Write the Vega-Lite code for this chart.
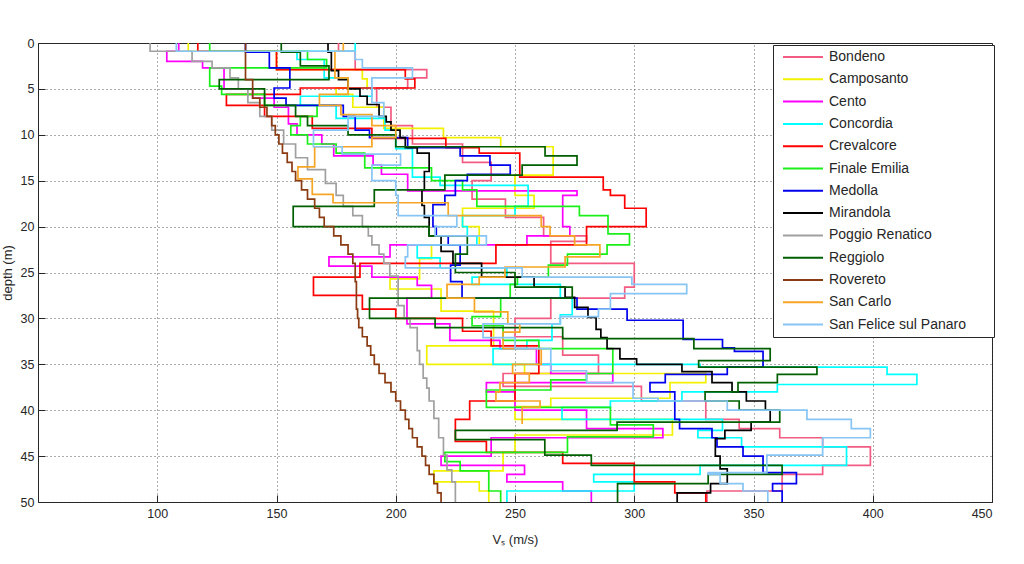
{
"$schema":"https://vega.github.io/schema/vega-lite/v6.json",
"width":954,"height":459,"autosize":"none",
"padding":{"left":38,"top":43,"right":32,"bottom":62},
"background":"white",
"config":{"view":{"stroke":"#262626","strokeWidth":1},"font":"Liberation Sans",
"axis":{"labelFont":"Liberation Sans","labelFontSize":12.5,"labelColor":"#262626","titleFont":"Liberation Sans","titleFontSize":13,"titleFontWeight":"normal","titleColor":"#262626","tickColor":"#262626","tickSize":-7,"labelPadding":12,"domain":false,"grid":true,"gridColor":"#333333","gridDash":[1,3],"gridOpacity":0.8}},
"data":{"values":[
{"s":"Bondeno","v":176,"t":0,"b":0.9},{"s":"Bondeno","v":183,"t":0.9,"b":2.9},{"s":"Bondeno","v":213,"t":2.9,"b":3.8},{"s":"Bondeno","v":205,"t":3.8,"b":4.9},{"s":"Bondeno","v":192,"t":4.9,"b":7},{"s":"Bondeno","v":198,"t":7,"b":9},{"s":"Bondeno","v":207,"t":9,"b":11},{"s":"Bondeno","v":228,"t":11,"b":13},{"s":"Bondeno","v":240,"t":13,"b":15},{"s":"Bondeno","v":232,"t":15,"b":17},{"s":"Bondeno","v":246,"t":17,"b":19},{"s":"Bondeno","v":262,"t":19,"b":21},{"s":"Bondeno","v":280,"t":21,"b":21.6},{"s":"Bondeno","v":265,"t":21.6,"b":24},{"s":"Bondeno","v":300,"t":24,"b":26.6},{"s":"Bondeno","v":296,"t":26.6,"b":27.8},{"s":"Bondeno","v":265,"t":27.8,"b":30},{"s":"Bondeno","v":250,"t":30,"b":32},{"s":"Bondeno","v":270,"t":32,"b":34},{"s":"Bondeno","v":285,"t":34,"b":36},{"s":"Bondeno","v":245,"t":36,"b":37.4},{"s":"Bondeno","v":303,"t":37.4,"b":39},{"s":"Bondeno","v":330,"t":39,"b":41},{"s":"Bondeno","v":344,"t":41,"b":42},{"s":"Bondeno","v":361,"t":42,"b":43},{"s":"Bondeno","v":379,"t":43,"b":44},{"s":"Bondeno","v":399,"t":44,"b":46},{"s":"Bondeno","v":379,"t":46,"b":47},{"s":"Bondeno","v":362,"t":47,"b":48.8},{"s":"Bondeno","v":330.5,"t":48.8,"b":50},
{"s":"Camposanto","v":113,"t":0,"b":0.9},{"s":"Camposanto","v":150,"t":0.9,"b":2.9},{"s":"Camposanto","v":186,"t":2.9,"b":3.9},{"s":"Camposanto","v":188,"t":3.9,"b":4.9},{"s":"Camposanto","v":175,"t":4.9,"b":5.6},{"s":"Camposanto","v":182,"t":5.6,"b":7},{"s":"Camposanto","v":195,"t":7,"b":9.3},{"s":"Camposanto","v":220,"t":9.3,"b":10.3},{"s":"Camposanto","v":244,"t":10.3,"b":11.3},{"s":"Camposanto","v":266,"t":11.3,"b":14.4},{"s":"Camposanto","v":250,"t":14.4,"b":16.6},{"s":"Camposanto","v":258,"t":16.6,"b":18},{"s":"Camposanto","v":228,"t":18,"b":20},{"s":"Camposanto","v":235,"t":20,"b":22},{"s":"Camposanto","v":215,"t":22,"b":23.5},{"s":"Camposanto","v":210,"t":23.5,"b":25.7},{"s":"Camposanto","v":197.6,"t":25.7,"b":26.8},{"s":"Camposanto","v":219,"t":26.8,"b":29.2},{"s":"Camposanto","v":241,"t":29.2,"b":33},{"s":"Camposanto","v":213,"t":33,"b":35},{"s":"Camposanto","v":254,"t":35,"b":36},{"s":"Camposanto","v":330,"t":36,"b":37},{"s":"Camposanto","v":315,"t":37,"b":38.7},{"s":"Camposanto","v":265,"t":38.7,"b":39.6},{"s":"Camposanto","v":250,"t":39.6,"b":41},{"s":"Camposanto","v":316,"t":41,"b":42.7},{"s":"Camposanto","v":250,"t":42.7,"b":44.6},{"s":"Camposanto","v":245,"t":44.6,"b":46.6},{"s":"Camposanto","v":216,"t":46.6,"b":47.8},{"s":"Camposanto","v":235,"t":47.8,"b":48.8},{"s":"Camposanto","v":239,"t":48.8,"b":50},
{"s":"Cento","v":109,"t":0,"b":0.9},{"s":"Cento","v":104,"t":0.9,"b":2},{"s":"Cento","v":119,"t":2,"b":2.7},{"s":"Cento","v":128,"t":2.7,"b":5},{"s":"Cento","v":140,"t":5,"b":6},{"s":"Cento","v":149,"t":6,"b":7},{"s":"Cento","v":155,"t":7,"b":8.8},{"s":"Cento","v":158.6,"t":8.8,"b":10},{"s":"Cento","v":169,"t":10,"b":11},{"s":"Cento","v":174,"t":11,"b":12.3},{"s":"Cento","v":190.5,"t":12.3,"b":13.3},{"s":"Cento","v":194,"t":13.3,"b":14.3},{"s":"Cento","v":205,"t":14.3,"b":16.1},{"s":"Cento","v":276,"t":16.1,"b":16.6},{"s":"Cento","v":270,"t":16.6,"b":20},{"s":"Cento","v":273,"t":20,"b":21},{"s":"Cento","v":255,"t":21,"b":22},{"s":"Cento","v":197.6,"t":22,"b":23.3},{"s":"Cento","v":172,"t":23.3,"b":24.3},{"s":"Cento","v":190,"t":24.3,"b":25.5},{"s":"Cento","v":209,"t":25.5,"b":26.4},{"s":"Cento","v":215,"t":26.4,"b":27.8},{"s":"Cento","v":204.7,"t":27.8,"b":30.6},{"s":"Cento","v":222.7,"t":30.6,"b":32.4},{"s":"Cento","v":243.7,"t":32.4,"b":33.3},{"s":"Cento","v":259,"t":33.3,"b":35},{"s":"Cento","v":265,"t":35,"b":36},{"s":"Cento","v":291,"t":36,"b":37},{"s":"Cento","v":238,"t":37,"b":38},{"s":"Cento","v":250,"t":38,"b":40},{"s":"Cento","v":280,"t":40,"b":42},{"s":"Cento","v":312,"t":42,"b":43},{"s":"Cento","v":240,"t":43,"b":45},{"s":"Cento","v":219,"t":45,"b":46},{"s":"Cento","v":254,"t":46,"b":47},{"s":"Cento","v":246.6,"t":47,"b":47.8},{"s":"Cento","v":270,"t":47.8,"b":48.8},{"s":"Cento","v":282,"t":48.8,"b":50},
{"s":"Concordia","v":183,"t":0,"b":0.9},{"s":"Concordia","v":158.6,"t":0.9,"b":1.8},{"s":"Concordia","v":170,"t":1.8,"b":3.8},{"s":"Concordia","v":180,"t":3.8,"b":4.9},{"s":"Concordia","v":190,"t":4.9,"b":5.8},{"s":"Concordia","v":160,"t":5.8,"b":6.8},{"s":"Concordia","v":175,"t":6.8,"b":8.2},{"s":"Concordia","v":195.5,"t":8.2,"b":9.5},{"s":"Concordia","v":200,"t":9.5,"b":11.5},{"s":"Concordia","v":207,"t":11.5,"b":14.6},{"s":"Concordia","v":218.6,"t":14.6,"b":15.5},{"s":"Concordia","v":255.5,"t":15.5,"b":17.8},{"s":"Concordia","v":250,"t":17.8,"b":18.8},{"s":"Concordia","v":228,"t":18.8,"b":20},{"s":"Concordia","v":230,"t":20,"b":21},{"s":"Concordia","v":234,"t":21,"b":22},{"s":"Concordia","v":209,"t":22,"b":23.4},{"s":"Concordia","v":218.6,"t":23.4,"b":24.5},{"s":"Concordia","v":246.6,"t":24.5,"b":25.5},{"s":"Concordia","v":232,"t":25.5,"b":26.3},{"s":"Concordia","v":269,"t":26.3,"b":27.8},{"s":"Concordia","v":274,"t":27.8,"b":29.6},{"s":"Concordia","v":269,"t":29.6,"b":30.6},{"s":"Concordia","v":265.5,"t":30.6,"b":32.4},{"s":"Concordia","v":255,"t":32.4,"b":33.3},{"s":"Concordia","v":240.8,"t":33.3,"b":35},{"s":"Concordia","v":327.6,"t":35,"b":35.3},{"s":"Concordia","v":406,"t":35.3,"b":36.1},{"s":"Concordia","v":418.5,"t":36.1,"b":37.2},{"s":"Concordia","v":360,"t":37.2,"b":38},{"s":"Concordia","v":320,"t":38,"b":39},{"s":"Concordia","v":290,"t":39,"b":39.7},{"s":"Concordia","v":269.7,"t":39.7,"b":41},{"s":"Concordia","v":337,"t":41,"b":42.2},{"s":"Concordia","v":326.7,"t":42.2,"b":43},{"s":"Concordia","v":345,"t":43,"b":44},{"s":"Concordia","v":389,"t":44,"b":46},{"s":"Concordia","v":327.6,"t":46,"b":47},{"s":"Concordia","v":283,"t":47,"b":47.8},{"s":"Concordia","v":300,"t":47.8,"b":48.8},{"s":"Concordia","v":246.6,"t":48.8,"b":50},
{"s":"Crevalcore","v":117,"t":0,"b":0.9},{"s":"Crevalcore","v":150,"t":0.9,"b":2.9},{"s":"Crevalcore","v":204,"t":2.9,"b":3.9},{"s":"Crevalcore","v":208,"t":3.9,"b":4.9},{"s":"Crevalcore","v":160,"t":4.9,"b":5.6},{"s":"Crevalcore","v":129,"t":5.6,"b":6.8},{"s":"Crevalcore","v":145,"t":6.8,"b":8},{"s":"Crevalcore","v":165,"t":8,"b":9.3},{"s":"Crevalcore","v":190,"t":9.3,"b":10.4},{"s":"Crevalcore","v":221,"t":10.4,"b":11.4},{"s":"Crevalcore","v":235,"t":11.4,"b":12},{"s":"Crevalcore","v":252,"t":12,"b":14.6},{"s":"Crevalcore","v":287,"t":14.6,"b":16},{"s":"Crevalcore","v":290,"t":16,"b":16.6},{"s":"Crevalcore","v":296,"t":16.6,"b":18},{"s":"Crevalcore","v":305,"t":18,"b":20},{"s":"Crevalcore","v":280,"t":20,"b":22},{"s":"Crevalcore","v":242,"t":22,"b":24},{"s":"Crevalcore","v":185,"t":24,"b":25.5},{"s":"Crevalcore","v":165.5,"t":25.5,"b":27.5},{"s":"Crevalcore","v":186,"t":27.5,"b":29},{"s":"Crevalcore","v":200,"t":29,"b":30},{"s":"Crevalcore","v":228,"t":30,"b":31.4},{"s":"Crevalcore","v":240,"t":31.4,"b":33},{"s":"Crevalcore","v":260,"t":33,"b":36},{"s":"Crevalcore","v":250,"t":36,"b":39},{"s":"Crevalcore","v":231,"t":39,"b":41},{"s":"Crevalcore","v":225,"t":41,"b":43.4},{"s":"Crevalcore","v":238,"t":43.4,"b":44.6},{"s":"Crevalcore","v":270,"t":44.6,"b":45.8},{"s":"Crevalcore","v":300,"t":45.8,"b":47.8},{"s":"Crevalcore","v":317,"t":47.8,"b":49},{"s":"Crevalcore","v":330,"t":49,"b":50},
{"s":"Finale Emilia","v":122,"t":0,"b":0.9},{"s":"Finale Emilia","v":163,"t":0.9,"b":1.8},{"s":"Finale Emilia","v":171,"t":1.8,"b":2.7},{"s":"Finale Emilia","v":122,"t":2.7,"b":4.7},{"s":"Finale Emilia","v":127,"t":4.7,"b":5.6},{"s":"Finale Emilia","v":145,"t":5.6,"b":6.8},{"s":"Finale Emilia","v":167,"t":6.8,"b":8},{"s":"Finale Emilia","v":160,"t":8,"b":9},{"s":"Finale Emilia","v":156,"t":9,"b":10},{"s":"Finale Emilia","v":163,"t":10,"b":11},{"s":"Finale Emilia","v":175,"t":11,"b":12},{"s":"Finale Emilia","v":187,"t":12,"b":13.6},{"s":"Finale Emilia","v":215,"t":13.6,"b":15},{"s":"Finale Emilia","v":228,"t":15,"b":16},{"s":"Finale Emilia","v":234,"t":16,"b":17.8},{"s":"Finale Emilia","v":277,"t":17.8,"b":18.8},{"s":"Finale Emilia","v":289,"t":18.8,"b":20.8},{"s":"Finale Emilia","v":298,"t":20.8,"b":22},{"s":"Finale Emilia","v":288.6,"t":22,"b":23},{"s":"Finale Emilia","v":272,"t":23,"b":24.2},{"s":"Finale Emilia","v":264,"t":24.2,"b":25.5},{"s":"Finale Emilia","v":251,"t":25.5,"b":26.3},{"s":"Finale Emilia","v":248,"t":26.3,"b":27.8},{"s":"Finale Emilia","v":244,"t":27.8,"b":29.8},{"s":"Finale Emilia","v":232,"t":29.8,"b":30.8},{"s":"Finale Emilia","v":245,"t":30.8,"b":32.4},{"s":"Finale Emilia","v":260,"t":32.4,"b":33.3},{"s":"Finale Emilia","v":291,"t":33.3,"b":36},{"s":"Finale Emilia","v":280,"t":36,"b":36.7},{"s":"Finale Emilia","v":265,"t":36.7,"b":37.8},{"s":"Finale Emilia","v":238,"t":37.8,"b":39.7},{"s":"Finale Emilia","v":290,"t":39.7,"b":41.6},{"s":"Finale Emilia","v":308,"t":41.6,"b":42.9},{"s":"Finale Emilia","v":272,"t":42.9,"b":44.6},{"s":"Finale Emilia","v":220.6,"t":44.6,"b":45.6},{"s":"Finale Emilia","v":227,"t":45.6,"b":46.6},{"s":"Finale Emilia","v":239,"t":46.6,"b":48.8},{"s":"Finale Emilia","v":244,"t":48.8,"b":50},
{"s":"Medolla","v":137,"t":0,"b":1},{"s":"Medolla","v":147,"t":1,"b":2.7},{"s":"Medolla","v":155.6,"t":2.7,"b":4.9},{"s":"Medolla","v":149,"t":4.9,"b":6},{"s":"Medolla","v":154,"t":6,"b":6.8},{"s":"Medolla","v":178,"t":6.8,"b":8},{"s":"Medolla","v":183,"t":8,"b":9.5},{"s":"Medolla","v":189,"t":9.5,"b":10.3},{"s":"Medolla","v":205,"t":10.3,"b":11.4},{"s":"Medolla","v":227,"t":11.4,"b":12.3},{"s":"Medolla","v":239.5,"t":12.3,"b":13.3},{"s":"Medolla","v":248,"t":13.3,"b":14.3},{"s":"Medolla","v":230,"t":14.3,"b":15},{"s":"Medolla","v":225,"t":15,"b":16.6},{"s":"Medolla","v":220.6,"t":16.6,"b":17.6},{"s":"Medolla","v":215.6,"t":17.6,"b":20},{"s":"Medolla","v":217,"t":20,"b":21},{"s":"Medolla","v":222,"t":21,"b":22},{"s":"Medolla","v":227,"t":22,"b":24.2},{"s":"Medolla","v":223,"t":24.2,"b":26},{"s":"Medolla","v":227.8,"t":26,"b":27.8},{"s":"Medolla","v":276,"t":27.8,"b":29},{"s":"Medolla","v":297,"t":29,"b":30.2},{"s":"Medolla","v":320.5,"t":30.2,"b":32.3},{"s":"Medolla","v":337,"t":32.3,"b":33.2},{"s":"Medolla","v":342,"t":33.2,"b":33.6},{"s":"Medolla","v":354,"t":33.6,"b":35.3},{"s":"Medolla","v":339,"t":35.3,"b":36.1},{"s":"Medolla","v":313,"t":36.1,"b":37},{"s":"Medolla","v":306.6,"t":37,"b":38},{"s":"Medolla","v":317,"t":38,"b":41},{"s":"Medolla","v":319,"t":41,"b":42},{"s":"Medolla","v":332.6,"t":42,"b":43},{"s":"Medolla","v":334.7,"t":43,"b":44},{"s":"Medolla","v":345.6,"t":44,"b":45},{"s":"Medolla","v":354,"t":45,"b":46.8},{"s":"Medolla","v":368,"t":46.8,"b":48},{"s":"Medolla","v":358,"t":48,"b":48.8},{"s":"Medolla","v":362,"t":48.8,"b":50},
{"s":"Mirandola","v":171.6,"t":0,"b":1},{"s":"Mirandola","v":173,"t":1,"b":3},{"s":"Mirandola","v":176,"t":3,"b":4},{"s":"Mirandola","v":180,"t":4,"b":5},{"s":"Mirandola","v":185,"t":5,"b":5.8},{"s":"Mirandola","v":188,"t":5.8,"b":6.7},{"s":"Mirandola","v":193,"t":6.7,"b":8},{"s":"Mirandola","v":196,"t":8,"b":8.6},{"s":"Mirandola","v":198,"t":8.6,"b":9.5},{"s":"Mirandola","v":201.8,"t":9.5,"b":10.3},{"s":"Mirandola","v":204,"t":10.3,"b":11.4},{"s":"Mirandola","v":209,"t":11.4,"b":12},{"s":"Mirandola","v":214,"t":12,"b":14},{"s":"Mirandola","v":212,"t":14,"b":16},{"s":"Mirandola","v":211,"t":16,"b":17.7},{"s":"Mirandola","v":212,"t":17.7,"b":19},{"s":"Mirandola","v":214,"t":19,"b":21},{"s":"Mirandola","v":219,"t":21,"b":22.7},{"s":"Mirandola","v":224,"t":22.7,"b":24},{"s":"Mirandola","v":236,"t":24,"b":25.5},{"s":"Mirandola","v":258,"t":25.5,"b":26.6},{"s":"Mirandola","v":271,"t":26.6,"b":27.7},{"s":"Mirandola","v":275,"t":27.7,"b":28.8},{"s":"Mirandola","v":280.6,"t":28.8,"b":29.9},{"s":"Mirandola","v":284,"t":29.9,"b":31.2},{"s":"Mirandola","v":286,"t":31.2,"b":32.1},{"s":"Mirandola","v":288.6,"t":32.1,"b":33.3},{"s":"Mirandola","v":294,"t":33.3,"b":34.4},{"s":"Mirandola","v":301,"t":34.4,"b":35},{"s":"Mirandola","v":320,"t":35,"b":35.8},{"s":"Mirandola","v":332.6,"t":35.8,"b":37},{"s":"Mirandola","v":341,"t":37,"b":38},{"s":"Mirandola","v":347,"t":38,"b":39},{"s":"Mirandola","v":355,"t":39,"b":40},{"s":"Mirandola","v":357,"t":40,"b":41.3},{"s":"Mirandola","v":349,"t":41.3,"b":42.2},{"s":"Mirandola","v":338,"t":42.2,"b":43.1},{"s":"Mirandola","v":334,"t":43.1,"b":45},{"s":"Mirandola","v":336,"t":45,"b":46.4},{"s":"Mirandola","v":339,"t":46.4,"b":48},{"s":"Mirandola","v":332,"t":48,"b":49},{"s":"Mirandola","v":318,"t":49,"b":50},
{"s":"Poggio Renatico","v":97,"t":0,"b":0.9},{"s":"Poggio Renatico","v":114.6,"t":0.9,"b":2},{"s":"Poggio Renatico","v":123,"t":2,"b":2.7},{"s":"Poggio Renatico","v":130.5,"t":2.7,"b":3.8},{"s":"Poggio Renatico","v":134,"t":3.8,"b":5},{"s":"Poggio Renatico","v":138,"t":5,"b":6.5},{"s":"Poggio Renatico","v":143,"t":6.5,"b":8},{"s":"Poggio Renatico","v":148,"t":8,"b":9.5},{"s":"Poggio Renatico","v":153,"t":9.5,"b":11},{"s":"Poggio Renatico","v":158,"t":11,"b":12.5},{"s":"Poggio Renatico","v":163,"t":12.5,"b":13.8},{"s":"Poggio Renatico","v":170.5,"t":13.8,"b":15.3},{"s":"Poggio Renatico","v":175,"t":15.3,"b":16.6},{"s":"Poggio Renatico","v":178,"t":16.6,"b":17.8},{"s":"Poggio Renatico","v":182,"t":17.8,"b":18.8},{"s":"Poggio Renatico","v":186,"t":18.8,"b":20},{"s":"Poggio Renatico","v":188.5,"t":20,"b":21},{"s":"Poggio Renatico","v":190,"t":21,"b":22},{"s":"Poggio Renatico","v":193,"t":22,"b":23},{"s":"Poggio Renatico","v":195,"t":23,"b":24},{"s":"Poggio Renatico","v":197.5,"t":24,"b":25.4},{"s":"Poggio Renatico","v":201,"t":25.4,"b":28.6},{"s":"Poggio Renatico","v":203.5,"t":28.6,"b":30},{"s":"Poggio Renatico","v":206,"t":30,"b":31},{"s":"Poggio Renatico","v":209,"t":31,"b":33.5},{"s":"Poggio Renatico","v":210,"t":33.5,"b":35},{"s":"Poggio Renatico","v":211.5,"t":35,"b":36.5},{"s":"Poggio Renatico","v":213,"t":36.5,"b":37.6},{"s":"Poggio Renatico","v":214,"t":37.6,"b":39},{"s":"Poggio Renatico","v":216,"t":39,"b":40.9},{"s":"Poggio Renatico","v":218,"t":40.9,"b":43},{"s":"Poggio Renatico","v":220,"t":43,"b":44.9},{"s":"Poggio Renatico","v":221.5,"t":44.9,"b":46.5},{"s":"Poggio Renatico","v":223.5,"t":46.5,"b":47.8},{"s":"Poggio Renatico","v":225,"t":47.8,"b":50},
{"s":"Reggiolo","v":152,"t":0,"b":1},{"s":"Reggiolo","v":160,"t":1,"b":2.5},{"s":"Reggiolo","v":172,"t":2.5,"b":4},{"s":"Reggiolo","v":126,"t":4,"b":5},{"s":"Reggiolo","v":145,"t":5,"b":6.8},{"s":"Reggiolo","v":158,"t":6.8,"b":8},{"s":"Reggiolo","v":163,"t":8,"b":9},{"s":"Reggiolo","v":180,"t":9,"b":10},{"s":"Reggiolo","v":200,"t":10,"b":11.3},{"s":"Reggiolo","v":262.6,"t":11.3,"b":12.3},{"s":"Reggiolo","v":276,"t":12.3,"b":13.3},{"s":"Reggiolo","v":253,"t":13.3,"b":14.4},{"s":"Reggiolo","v":220.6,"t":14.4,"b":16},{"s":"Reggiolo","v":191,"t":16,"b":17.8},{"s":"Reggiolo","v":157,"t":17.8,"b":20},{"s":"Reggiolo","v":214,"t":20,"b":21},{"s":"Reggiolo","v":230,"t":21,"b":23},{"s":"Reggiolo","v":225,"t":23,"b":25},{"s":"Reggiolo","v":250,"t":25,"b":26.6},{"s":"Reggiolo","v":274,"t":26.6,"b":27.8},{"s":"Reggiolo","v":189,"t":27.8,"b":30},{"s":"Reggiolo","v":216.5,"t":30,"b":31},{"s":"Reggiolo","v":270,"t":31,"b":32.2},{"s":"Reggiolo","v":325,"t":32.2,"b":33.3},{"s":"Reggiolo","v":357,"t":33.3,"b":34.6},{"s":"Reggiolo","v":327,"t":34.6,"b":35.3},{"s":"Reggiolo","v":376.6,"t":35.3,"b":36.1},{"s":"Reggiolo","v":360,"t":36.1,"b":37},{"s":"Reggiolo","v":343.5,"t":37,"b":38},{"s":"Reggiolo","v":329.7,"t":38,"b":39},{"s":"Reggiolo","v":344,"t":39,"b":40},{"s":"Reggiolo","v":361,"t":40,"b":41.3},{"s":"Reggiolo","v":292.8,"t":41.3,"b":42.2},{"s":"Reggiolo","v":225,"t":42.2,"b":43.2},{"s":"Reggiolo","v":262.5,"t":43.2,"b":44.9},{"s":"Reggiolo","v":282,"t":44.9,"b":46},{"s":"Reggiolo","v":362,"t":46,"b":47},{"s":"Reggiolo","v":331,"t":47,"b":48},{"s":"Reggiolo","v":293,"t":48,"b":50},
{"s":"Rovereto","v":137,"t":0,"b":4},{"s":"Rovereto","v":140,"t":4,"b":6},{"s":"Rovereto","v":143,"t":6,"b":7},{"s":"Rovereto","v":146,"t":7,"b":8},{"s":"Rovereto","v":148,"t":8,"b":9},{"s":"Rovereto","v":149.5,"t":9,"b":10},{"s":"Rovereto","v":151,"t":10,"b":11},{"s":"Rovereto","v":152.5,"t":11,"b":12},{"s":"Rovereto","v":154.5,"t":12,"b":13},{"s":"Rovereto","v":156.5,"t":13,"b":14},{"s":"Rovereto","v":158,"t":14,"b":15},{"s":"Rovereto","v":160.5,"t":15,"b":16},{"s":"Rovereto","v":163,"t":16,"b":17},{"s":"Rovereto","v":166,"t":17,"b":18},{"s":"Rovereto","v":168,"t":18,"b":19},{"s":"Rovereto","v":170,"t":19,"b":20},{"s":"Rovereto","v":174,"t":20,"b":21},{"s":"Rovereto","v":177,"t":21,"b":22},{"s":"Rovereto","v":180,"t":22,"b":23},{"s":"Rovereto","v":182,"t":23,"b":24},{"s":"Rovereto","v":183,"t":24,"b":26},{"s":"Rovereto","v":183.5,"t":26,"b":29},{"s":"Rovereto","v":184,"t":29,"b":30},{"s":"Rovereto","v":184.5,"t":30,"b":31},{"s":"Rovereto","v":186,"t":31,"b":32},{"s":"Rovereto","v":188,"t":32,"b":33},{"s":"Rovereto","v":189.5,"t":33,"b":34},{"s":"Rovereto","v":191,"t":34,"b":35},{"s":"Rovereto","v":193,"t":35,"b":36},{"s":"Rovereto","v":195.5,"t":36,"b":37},{"s":"Rovereto","v":198,"t":37,"b":38},{"s":"Rovereto","v":200,"t":38,"b":39},{"s":"Rovereto","v":202,"t":39,"b":40},{"s":"Rovereto","v":204,"t":40,"b":41},{"s":"Rovereto","v":205.5,"t":41,"b":42},{"s":"Rovereto","v":207,"t":42,"b":43},{"s":"Rovereto","v":209,"t":43,"b":44},{"s":"Rovereto","v":211,"t":44,"b":45},{"s":"Rovereto","v":212.5,"t":45,"b":46},{"s":"Rovereto","v":214,"t":46,"b":47},{"s":"Rovereto","v":216,"t":47,"b":48},{"s":"Rovereto","v":217.5,"t":48,"b":49},{"s":"Rovereto","v":219,"t":49,"b":50},
{"s":"San Carlo","v":178,"t":0,"b":0.9},{"s":"San Carlo","v":174.5,"t":0.9,"b":3.8},{"s":"San Carlo","v":180,"t":3.8,"b":5.6},{"s":"San Carlo","v":168,"t":5.6,"b":6.8},{"s":"San Carlo","v":177,"t":6.8,"b":7.8},{"s":"San Carlo","v":190,"t":7.8,"b":9},{"s":"San Carlo","v":200,"t":9,"b":10.3},{"s":"San Carlo","v":190,"t":10.3,"b":11.3},{"s":"San Carlo","v":166,"t":11.3,"b":13.5},{"s":"San Carlo","v":159,"t":13.5,"b":14.8},{"s":"San Carlo","v":165,"t":14.8,"b":16.5},{"s":"San Carlo","v":173.7,"t":16.5,"b":17.4},{"s":"San Carlo","v":222,"t":17.4,"b":18.8},{"s":"San Carlo","v":261,"t":18.8,"b":20},{"s":"San Carlo","v":264.7,"t":20,"b":21},{"s":"San Carlo","v":275,"t":21,"b":22},{"s":"San Carlo","v":285.6,"t":22,"b":23.3},{"s":"San Carlo","v":271,"t":23.3,"b":24.4},{"s":"San Carlo","v":245.8,"t":24.4,"b":25.5},{"s":"San Carlo","v":235,"t":25.5,"b":26.3},{"s":"San Carlo","v":221.5,"t":26.3,"b":27.8},{"s":"San Carlo","v":233,"t":27.8,"b":29.3},{"s":"San Carlo","v":247,"t":29.3,"b":30.6},{"s":"San Carlo","v":252,"t":30.6,"b":31.5},{"s":"San Carlo","v":245,"t":31.5,"b":33.3},{"s":"San Carlo","v":261,"t":33.3,"b":35},{"s":"San Carlo","v":249,"t":35,"b":36},{"s":"San Carlo","v":256,"t":36,"b":37},{"s":"San Carlo","v":243.7,"t":37,"b":38},{"s":"San Carlo","v":242,"t":38,"b":39},{"s":"San Carlo","v":260.5,"t":39,"b":39.7},{"s":"San Carlo","v":253,"t":39.7,"b":41.5},
{"s":"San Felice sul Panaro","v":108,"t":0,"b":0.9},{"s":"San Felice sul Panaro","v":183,"t":0.9,"b":1.8},{"s":"San Felice sul Panaro","v":186,"t":1.8,"b":2.7},{"s":"San Felice sul Panaro","v":207,"t":2.7,"b":3.8},{"s":"San Felice sul Panaro","v":190,"t":3.8,"b":6.5},{"s":"San Felice sul Panaro","v":195,"t":6.5,"b":8},{"s":"San Felice sul Panaro","v":180,"t":8,"b":9.5},{"s":"San Felice sul Panaro","v":165.5,"t":9.5,"b":11.3},{"s":"San Felice sul Panaro","v":177.5,"t":11.3,"b":12.1},{"s":"San Felice sul Panaro","v":202,"t":12.1,"b":13.3},{"s":"San Felice sul Panaro","v":190,"t":13.3,"b":15},{"s":"San Felice sul Panaro","v":200,"t":15,"b":16.6},{"s":"San Felice sul Panaro","v":201,"t":16.6,"b":18.8},{"s":"San Felice sul Panaro","v":225.6,"t":18.8,"b":20},{"s":"San Felice sul Panaro","v":216.5,"t":20,"b":21},{"s":"San Felice sul Panaro","v":238,"t":21,"b":22},{"s":"San Felice sul Panaro","v":205,"t":22,"b":23.3},{"s":"San Felice sul Panaro","v":204,"t":23.3,"b":24.5},{"s":"San Felice sul Panaro","v":253,"t":24.5,"b":25.5},{"s":"San Felice sul Panaro","v":299,"t":25.5,"b":26.3},{"s":"San Felice sul Panaro","v":322,"t":26.3,"b":27.3},{"s":"San Felice sul Panaro","v":290,"t":27.3,"b":29},{"s":"San Felice sul Panaro","v":285,"t":29,"b":29.8},{"s":"San Felice sul Panaro","v":269,"t":29.8,"b":30.6},{"s":"San Felice sul Panaro","v":236.6,"t":30.6,"b":32.1},{"s":"San Felice sul Panaro","v":250,"t":32.1,"b":33.3},{"s":"San Felice sul Panaro","v":265,"t":33.3,"b":35.7},{"s":"San Felice sul Panaro","v":280,"t":35.7,"b":37},{"s":"San Felice sul Panaro","v":299.5,"t":37,"b":38.7},{"s":"San Felice sul Panaro","v":310,"t":38.7,"b":39},{"s":"San Felice sul Panaro","v":339,"t":39,"b":40},{"s":"San Felice sul Panaro","v":372.4,"t":40,"b":41},{"s":"San Felice sul Panaro","v":391,"t":41,"b":42},{"s":"San Felice sul Panaro","v":399,"t":42,"b":43},{"s":"San Felice sul Panaro","v":379,"t":43,"b":44.9},{"s":"San Felice sul Panaro","v":355.6,"t":44.9,"b":46.8},{"s":"San Felice sul Panaro","v":331,"t":46.8,"b":47},{"s":"San Felice sul Panaro","v":336,"t":47,"b":48},{"s":"San Felice sul Panaro","v":345.6,"t":48,"b":48.8},{"s":"San Felice sul Panaro","v":356,"t":48.8,"b":50}
]},
"transform":[{"fold":["t","b"],"as":["k","depth"]},{"window":[{"op":"row_number","as":"rn"}],"groupby":["s"],"sort":[{"field":"depth","order":"ascending"},{"field":"k","order":"ascending"}]}],
"mark":{"type":"line","strokeWidth":1.7,"clip":true},
"encoding":{
"x":{"field":"v","type":"quantitative","scale":{"domain":[50,450],"nice":false,"zero":false},"axis":{"values":[100,150,200,250,300,350,400,450],"title":"Vₛ (m/s)","titlePadding":14}},
"y":{"field":"depth","type":"quantitative","scale":{"domain":[0,50],"reverse":true,"nice":false,"zero":false},"axis":{"values":[0,5,10,15,20,25,30,35,40,45,50],"title":"depth (m)","titlePadding":6,"labelPadding":11}},
"color":{"field":"s","type":"nominal","scale":{"domain":["Bondeno","Camposanto","Cento","Concordia","Crevalcore","Finale Emilia","Medolla","Mirandola","Poggio Renatico","Reggiolo","Rovereto","San Carlo","San Felice sul Panaro"],"range":["#f25c82","#f2f200","#ff00ff","#00ffff","#ff0000","#1aef1a","#0000ee","#000000","#a0a0a0","#005f00","#8a3b12","#f6a524","#87c5f5"]},
"legend":{"title":null,"orient":"none","legendX":735,"legendY":2,"symbolType":"stroke","symbolSize":1600,"symbolStrokeWidth":2,"symbolOffset":4,"clipHeight":14,"labelFont":"Liberation Sans","labelFontSize":14,"labelLimit":240,"labelColor":"#262626","strokeColor":"#262626","fillColor":"white","padding":5,"rowPadding":8.3,"labelOffset":5,"labelExpr":"datum.label + '\u2009\u2800\u2800'"}},
"order":{"field":"rn","type":"quantitative"}
}
}
